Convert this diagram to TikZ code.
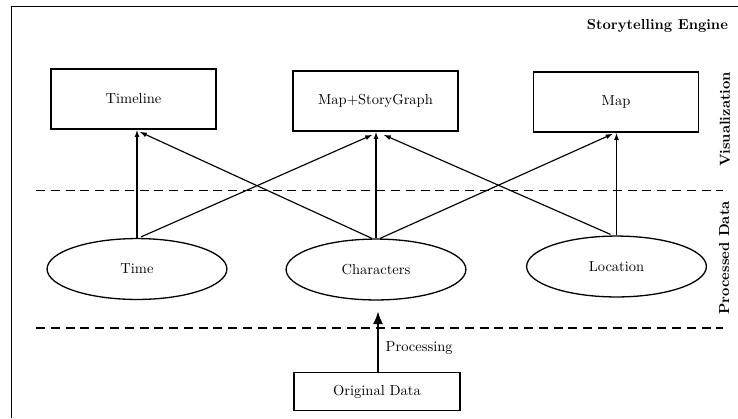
\documentclass[tikz,border=0pt]{standalone}
\usetikzlibrary{arrows.meta,shapes.geometric,calc}
\begin{document}
\begin{tikzpicture}[x=0.6897pt,y=-0.6897pt,
  box/.style={draw,line width=1pt,minimum width=113.8pt,minimum height=41.4pt,inner sep=0pt},
  oval/.style={draw,ellipse,line width=0.9pt,minimum width=124pt,minimum height=42pt,inner sep=0pt},
  conn/.style={line width=0.8pt,-{Latex[length=5pt,width=3.4pt]}},
  thickarr/.style={line width=2pt,-{Latex[length=9pt,width=7pt]}},
  sep/.style={line width=0.9pt,dash pattern=on 6.2pt off 4pt},
  frame/.style={line width=1.1pt},
  lab/.style={font=\bfseries}]
\useasboundingbox (0,0) rectangle (738,418);
% frame
\coordinate (fbl) at (11.5,418);
\coordinate (ftl) at (11.5,6.5);
\coordinate (ftr) at (738,6.5);
\draw[frame] (fbl) -- (ftl) -- (ftr);
% labels
\node[lab,anchor=east] (title) at (733,26) {Storytelling Engine};
\node[lab,rotate=90] (vis) at (725,119.5) {Visualization};
\node[lab,rotate=90] (proc) at (724,258) {Processed Data};
% boxes
\node[box] (tl) at (133.5,99) {Timeline};
\node[box] (msg) at (375.5,101) {Map+StoryGraph};
\node[box] (map) at (616,102) {Map};
% ellipses
\node[oval] (time) at (137,269) {Time};
\node[oval] (chars) at (376,269.5) {Characters};
\node[oval] (loc) at (616.5,266.5) {Location};
% original data
\node[box,minimum height=26.2pt,minimum width=114.5pt] (orig) at (377,391.7) {Original Data};
% separators
\coordinate (s1a) at (36,190.7);
\coordinate (s1b) at (723,190.7);
\coordinate (s2a) at (36,328);
\coordinate (s2b) at (723,328);
\draw[sep] (s1a) -- (s1b);
\draw[sep] (s2a) -- (s2b);
% connectors
\draw[conn] (time.north) -- (time.north |- tl.south);
\draw[conn] ($(chars.north)+(-4,0)$) -- ($(tl.south)+(6,2)$);
\draw[conn] ($(time.north)+(4,-1)$) -- ($(msg.south)+(-3,3)$);
\draw[conn] (chars.north) -- (chars.north |- msg.south);
\draw[conn] ($(loc.north)+(-6,-1)$) -- ($(msg.south)+(8,3)$);
\draw[conn] ($(chars.north)+(4,0)$) -- ($(map.south)+(-3,1)$);
\draw[conn] (loc.north) -- (loc.north |- map.south);
% processing
\coordinate (ptip) at (378,311);
\draw[thickarr] (orig.north -| ptip) -- (ptip) node[pos=0.39,anchor=west,xshift=1pt] (plab) {Processing};
\end{tikzpicture}
\end{document}
